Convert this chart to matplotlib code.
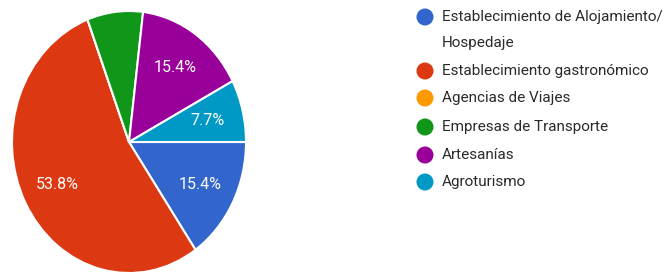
import matplotlib.pyplot as plt

plt.rcParams['font.family'] = ['Roboto', 'DejaVu Sans']

labels = ['Establecimiento de Alojamiento/\nHospedaje', 'Establecimiento gastronómico',
          'Agencias de Viajes', 'Empresas de Transporte', 'Artesanías', 'Agroturismo']
counts = [2, 7, 0, 1, 2, 1]
colors = ['#3366CC', '#DC3912', '#FF9900', '#109618', '#990099', '#0099C6']
hide_label = [False, False, True, True, False, False]

fig = plt.figure(figsize=(6.67, 2.73), dpi=100)

# pie axes spans the figure; limits chosen so the pie sits left (stretched vertically like the source)
ax = fig.add_axes([0, 0, 1, 1])
wedges, texts, autotexts = ax.pie(counts, colors=colors, startangle=0, counterclock=False,
                                  autopct='%1.1f%%', pctdistance=0.69,
                                  wedgeprops=dict(edgecolor='white', linewidth=1.5),
                                  textprops=dict(color='white', fontsize=11.5))
for t, h in zip(autotexts, hide_label):
    if h:
        t.set_text('')
ax.set_aspect('auto')
ax.set_xlim(-129 / 117, (667 - 129) / 117)
ax.set_ylim(-(273 - 142) / 131, 142 / 131)
ax.axis('off')

# legend drawn in pixel coordinates
lg = fig.add_axes([0, 0, 1, 1])
lg.set_xlim(0, 667)
lg.set_ylim(273, 0)
lg.axis('off')
row_y = [17, 71, 98, 127, 155, 182]
for y, c, lab in zip(row_y, colors, labels):
    lg.scatter([425], [y], s=150, color=c, edgecolors='none')
    for i, line in enumerate(lab.split('\n')):
        lg.text(442, y + i * 26, line, va='center', fontsize=11, color='#2a2a2a')

fig.savefig('out.png', dpi=100)
